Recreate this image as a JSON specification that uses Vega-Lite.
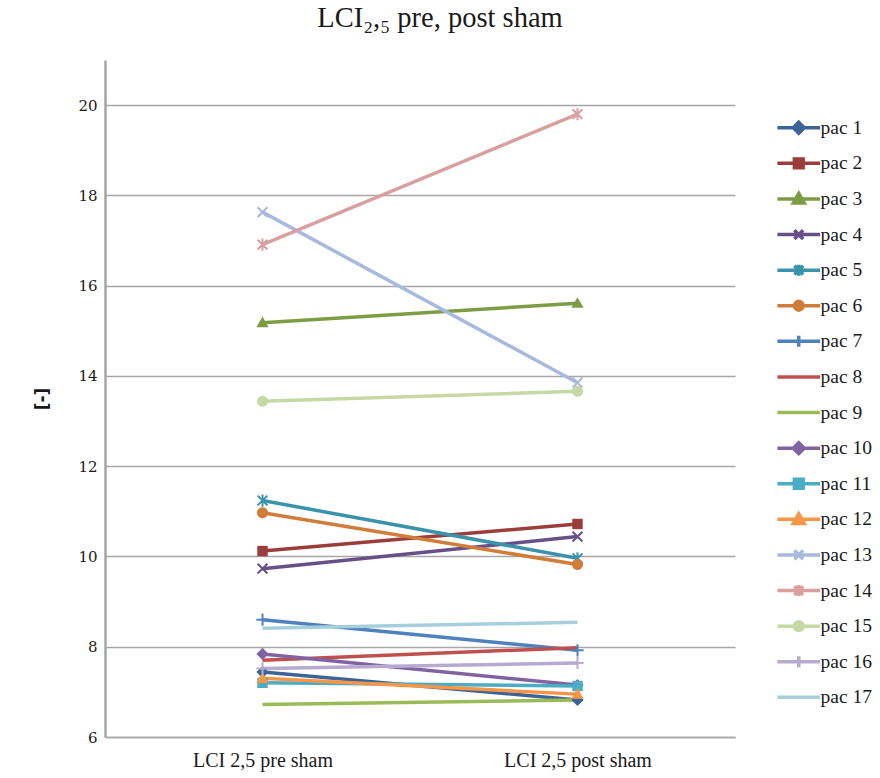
{
  "$schema": "https://vega.github.io/schema/vega-lite/v6.json",
  "width": 630,
  "height": 677,
  "autosize": "none",
  "padding": {"left": 105, "top": 60, "right": 145, "bottom": 41},
  "background": "white",
  "title": {
    "text": "LCI₂,₅ pre, post sham",
    "font": "Liberation Serif",
    "fontSize": 28.5,
    "fontWeight": "normal",
    "color": "#1a1a1a",
    "anchor": "middle",
    "frame": "group",
    "dx": 20,
    "offset": 28
  },
  "config": {
    "view": {"stroke": null},
    "legend": {"padding": 0}
  },
  "data": {
    "values": [
      {"pac": "pac 1", "phase": "LCI 2,5 pre sham", "value": 7.44},
      {"pac": "pac 1", "phase": "LCI 2,5 post sham", "value": 6.82},
      {"pac": "pac 2", "phase": "LCI 2,5 pre sham", "value": 10.12},
      {"pac": "pac 2", "phase": "LCI 2,5 post sham", "value": 10.72},
      {"pac": "pac 3", "phase": "LCI 2,5 pre sham", "value": 15.18},
      {"pac": "pac 3", "phase": "LCI 2,5 post sham", "value": 15.61},
      {"pac": "pac 4", "phase": "LCI 2,5 pre sham", "value": 9.73},
      {"pac": "pac 4", "phase": "LCI 2,5 post sham", "value": 10.44},
      {"pac": "pac 5", "phase": "LCI 2,5 pre sham", "value": 11.24},
      {"pac": "pac 5", "phase": "LCI 2,5 post sham", "value": 9.96},
      {"pac": "pac 6", "phase": "LCI 2,5 pre sham", "value": 10.97},
      {"pac": "pac 6", "phase": "LCI 2,5 post sham", "value": 9.82},
      {"pac": "pac 7", "phase": "LCI 2,5 pre sham", "value": 8.6},
      {"pac": "pac 7", "phase": "LCI 2,5 post sham", "value": 7.92},
      {"pac": "pac 8", "phase": "LCI 2,5 pre sham", "value": 7.7},
      {"pac": "pac 8", "phase": "LCI 2,5 post sham", "value": 7.98},
      {"pac": "pac 9", "phase": "LCI 2,5 pre sham", "value": 6.72},
      {"pac": "pac 9", "phase": "LCI 2,5 post sham", "value": 6.82},
      {"pac": "pac 10", "phase": "LCI 2,5 pre sham", "value": 7.84},
      {"pac": "pac 10", "phase": "LCI 2,5 post sham", "value": 7.15},
      {"pac": "pac 11", "phase": "LCI 2,5 pre sham", "value": 7.2},
      {"pac": "pac 11", "phase": "LCI 2,5 post sham", "value": 7.13},
      {"pac": "pac 12", "phase": "LCI 2,5 pre sham", "value": 7.3},
      {"pac": "pac 12", "phase": "LCI 2,5 post sham", "value": 6.95},
      {"pac": "pac 13", "phase": "LCI 2,5 pre sham", "value": 17.63},
      {"pac": "pac 13", "phase": "LCI 2,5 post sham", "value": 13.85},
      {"pac": "pac 14", "phase": "LCI 2,5 pre sham", "value": 16.91},
      {"pac": "pac 14", "phase": "LCI 2,5 post sham", "value": 19.8},
      {"pac": "pac 15", "phase": "LCI 2,5 pre sham", "value": 13.44},
      {"pac": "pac 15", "phase": "LCI 2,5 post sham", "value": 13.66},
      {"pac": "pac 16", "phase": "LCI 2,5 pre sham", "value": 7.52},
      {"pac": "pac 16", "phase": "LCI 2,5 post sham", "value": 7.64},
      {"pac": "pac 17", "phase": "LCI 2,5 pre sham", "value": 8.41},
      {"pac": "pac 17", "phase": "LCI 2,5 post sham", "value": 8.54}
    ]
  },
  "encoding": {
    "x": {
      "field": "phase",
      "type": "nominal",
      "sort": ["LCI 2,5 pre sham", "LCI 2,5 post sham"],
      "scale": {"type": "point", "padding": 0.5},
      "axis": {
        "title": null,
        "labelAngle": 0,
        "labelFont": "Liberation Serif",
        "labelFontSize": 20,
        "labelColor": "#1a1a1a",
        "labelPadding": 13,
        "ticks": false,
        "grid": false,
        "domainColor": "#a6a6a6",
        "domainWidth": 1.5
      }
    },
    "y": {
      "field": "value",
      "type": "quantitative",
      "scale": {"domain": [6, 21], "nice": false, "zero": false},
      "axis": {
        "title": "[-]",
        "titleFont": "DejaVu Sans",
        "titleFontSize": 17,
        "titleFontWeight": "bold",
        "titleColor": "#1a1a1a",
        "titlePadding": 26,
        "values": [6, 8, 10, 12, 14, 16, 18, 20],
        "labelFont": "DejaVu Serif",
        "labelFontSize": 15,
        "labelColor": "#1a1a1a",
        "labelPadding": 8,
        "ticks": false,
        "grid": true,
        "gridColor": "#a6a6a6",
        "gridWidth": 1.5,
        "domainColor": "#a6a6a6",
        "domainWidth": 2.5
      }
    },
    "detail": {"field": "pac", "type": "nominal"},
    "color": {
      "field": "pac",
      "type": "nominal",
      "scale": {
        "domain": ["pac 1", "pac 2", "pac 3", "pac 4", "pac 5", "pac 6", "pac 7", "pac 8", "pac 9", "pac 10", "pac 11", "pac 12", "pac 13", "pac 14", "pac 15", "pac 16", "pac 17"],
        "range": ["#3c6496", "#9b3d3a", "#7e9c44", "#674f88", "#3a93aa", "#d07d3a", "#4f81bd", "#c0504d", "#9bbb59", "#8064a2", "#4bacc6", "#f79646", "#a7b9dc", "#d9a0a0", "#c6d8a4", "#b7a9cf", "#a6cfde"]
      },
      "legend": {
        "title": null,
        "orient": "none",
        "legendX": 684,
        "legendY": 58,
        "labelFont": "Liberation Serif",
        "labelFontSize": 19.5,
        "labelColor": "#1a1a1a",
        "labelOffset": 12,
        "rowPadding": 9.6,
        "gridAlign": "all",
        "symbolSize": 120,
        "symbolStrokeWidth": 3.5
      }
    }
  },
  "layer": [
    {
      "transform": [{"filter": "false"}],
      "mark": {"type": "point", "filled": false, "strokeWidth": 3.5, "opacity": 1},
      "encoding": {
        "shape": {
          "field": "pac",
          "type": "nominal",
          "legend": {
            "title": null,
            "orient": "none",
            "legendX": 684,
            "legendY": 58,
            "labelFont": "Liberation Serif",
            "labelFontSize": 19.5,
            "labelColor": "#1a1a1a",
            "labelOffset": 12,
            "rowPadding": 9.6,
            "gridAlign": "all",
            "symbolSize": 120,
            "symbolStrokeWidth": 3.5
          },
          "scale": {
            "domain": ["pac 1", "pac 2", "pac 3", "pac 4", "pac 5", "pac 6", "pac 7", "pac 8", "pac 9", "pac 10", "pac 11", "pac 12", "pac 13", "pac 14", "pac 15", "pac 16", "pac 17"],
            "range": [
              "M-3.9,0L3.9,0M0,-1L1,0L0,1L-1,0Z",
              "M-3.9,0L3.9,0M-0.8,-0.8L0.8,-0.8L0.8,0.8L-0.8,0.8Z",
              "M-3.9,0L3.9,0M0,-1L1,0.75L-1,0.75Z",
              "M-3.9,0L3.9,0M-0.8,-0.8L0.8,0.8M0.8,-0.8L-0.8,0.8",
              "M-3.9,0L3.9,0M-0.8,-0.8L0.8,0.8M0.8,-0.8L-0.8,0.8M0,-1L0,1",
              "M-3.9,0L3.9,0M-0.8,0A0.8,0.8,0,1,1,0.8,0A0.8,0.8,0,1,1,-0.8,0Z",
              "M-3.9,0L3.9,0M0,-1L0,1",
              "M-3.9,0L3.9,0",
              "M-3.9,0L3.9,0",
              "M-3.9,0L3.9,0M0,-1L1,0L0,1L-1,0Z",
              "M-3.9,0L3.9,0M-0.8,-0.8L0.8,-0.8L0.8,0.8L-0.8,0.8Z",
              "M-3.9,0L3.9,0M0,-1L1,0.75L-1,0.75Z",
              "M-3.9,0L3.9,0M-0.8,-0.8L0.8,0.8M0.8,-0.8L-0.8,0.8",
              "M-3.9,0L3.9,0M-0.8,-0.8L0.8,0.8M0.8,-0.8L-0.8,0.8M0,-1L0,1",
              "M-3.9,0L3.9,0M-0.8,0A0.8,0.8,0,1,1,0.8,0A0.8,0.8,0,1,1,-0.8,0Z",
              "M-3.9,0L3.9,0M0,-1L0,1",
              "M-3.9,0L3.9,0"
            ]
          }
        }
      }
    },
    {
      "mark": {"type": "line", "strokeWidth": 3.5}
    },
    {
      "transform": [{"filter": {"field": "pac", "oneOf": ["pac 1", "pac 10"]}}],
      "mark": {"type": "point", "filled": true, "size": 150, "opacity": 1, "shape": "M0,-1L1,0L0,1L-1,0Z"}
    },
    {
      "transform": [{"filter": {"field": "pac", "oneOf": ["pac 2", "pac 11"]}}],
      "mark": {"type": "point", "filled": true, "size": 150, "opacity": 1, "shape": "M-0.85,-0.85L0.85,-0.85L0.85,0.85L-0.85,0.85Z"}
    },
    {
      "transform": [{"filter": {"field": "pac", "oneOf": ["pac 3", "pac 12"]}}],
      "mark": {"type": "point", "filled": true, "size": 150, "opacity": 1, "shape": "M0,-1L1,0.75L-1,0.75Z"}
    },
    {
      "transform": [{"filter": {"field": "pac", "oneOf": ["pac 4", "pac 13"]}}],
      "mark": {"type": "point", "filled": false, "size": 150, "strokeWidth": 2, "opacity": 1, "shape": "M-0.8,-0.8L0.8,0.8M0.8,-0.8L-0.8,0.8"}
    },
    {
      "transform": [{"filter": {"field": "pac", "oneOf": ["pac 5", "pac 14"]}}],
      "mark": {"type": "point", "filled": false, "size": 150, "strokeWidth": 2, "opacity": 1, "shape": "M-0.8,-0.8L0.8,0.8M0.8,-0.8L-0.8,0.8M0,-1L0,1"}
    },
    {
      "transform": [{"filter": {"field": "pac", "oneOf": ["pac 6", "pac 15"]}}],
      "mark": {"type": "point", "filled": true, "size": 150, "opacity": 1, "shape": "M-0.9,0A0.9,0.9,0,1,1,0.9,0A0.9,0.9,0,1,1,-0.9,0Z"}
    },
    {
      "transform": [{"filter": {"field": "pac", "oneOf": ["pac 7", "pac 16"]}}],
      "mark": {"type": "point", "filled": false, "size": 150, "strokeWidth": 2, "opacity": 1, "shape": "M0,-1L0,1M-1,0L1,0"}
    }
  ]
}
